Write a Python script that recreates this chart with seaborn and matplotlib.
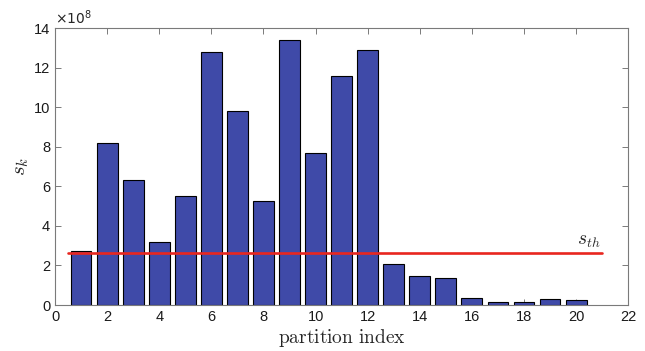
import numpy as np
import pandas as pd
import matplotlib
matplotlib.use("Agg")
import matplotlib.pyplot as plt
import seaborn as sns
from matplotlib.ticker import FuncFormatter

# values (units of 1e8)
partition = list(range(1, 21))
s_k = [2.75, 8.2, 6.3, 3.2, 5.5, 12.8, 9.8, 5.25, 13.4, 7.7,
       11.6, 12.9, 2.05, 1.48, 1.35, 0.38, 0.13, 0.17, 0.28, 0.26]
s_th = 2.63
th_x = [0.5, 21]

df = pd.DataFrame({"partition": partition, "s_k": np.array(s_k) * 1e8})
th = pd.DataFrame({"x": th_x, "y": [s_th * 1e8] * len(th_x)})

sns.set_style("ticks")
plt.rcParams['font.family'] = ['Liberation Sans', 'DejaVu Sans']
plt.rcParams['mathtext.fontset'] = 'cm'

fig = plt.figure(figsize=(6.45, 3.51), dpi=100)
ax = fig.add_axes([0.0853, 0.131, 0.8887, 0.789])

sns.barplot(data=df, x="partition", y="s_k", native_scale=True, width=0.8,
            color="#3F4AA8", saturation=1, edgecolor="black", linewidth=0.8, ax=ax)
sns.lineplot(data=th, x="x", y="y", color="#E8261F", linewidth=1.9, ax=ax)

ax.text(th_x[1] - 0.05, s_th * 1e8 + 0.15e8, r"$s_{th}$", ha="right", va="bottom", fontsize=14)

ax.set_xlim(0, 22)
ax.set_ylim(0, 14e8)
ax.set_xticks(np.arange(0, 23, 2))
ax.set_yticks(np.arange(0, 15e8, 2e8))
ax.yaxis.set_major_formatter(FuncFormatter(lambda v, p: f"{v / 1e8:g}"))
ax.text(0.0, 1.005, r"$\times10^{8}$", transform=ax.transAxes, ha="left", va="bottom",
        fontsize=10, family="DejaVu Sans", math_fontfamily="dejavusans", color="#262626")

ax.set_xlabel(r"$\mathrm{partition\ index}$", fontsize=14, labelpad=2)
ax.set_ylabel(r"$s_k$", fontsize=15, labelpad=2)

for sp in ax.spines.values():
    sp.set_visible(True)
    sp.set_color("#7a7a7a")
    sp.set_linewidth(0.8)
ax.tick_params(direction="in", length=4, width=0.7, color="#7a7a7a",
               labelsize=10.5, top=True, right=True, labelcolor="#1a1a1a")
ax.grid(False)

fig.savefig("out.png", dpi=100)
